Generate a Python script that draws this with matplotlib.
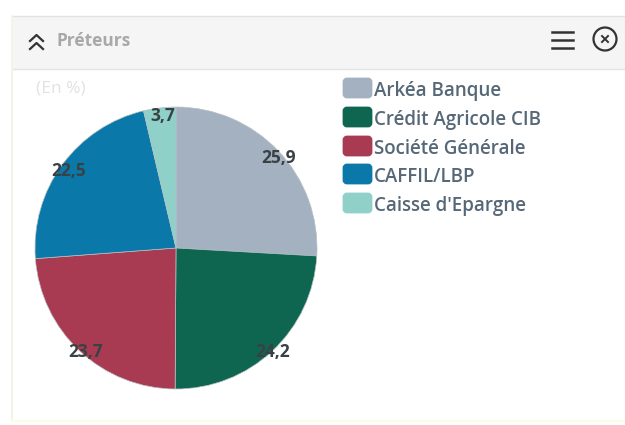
import matplotlib
matplotlib.use("Agg")
from matplotlib import pyplot as plt
from matplotlib.patches import Rectangle, Circle, FancyBboxPatch

plt.rcParams["font.family"] = ["Open Sans", "DejaVu Sans"]

lenders = ["Arkéa Banque", "Crédit Agricole CIB", "Société Générale", "CAFFIL/LBP", "Caisse d'Epargne"]
shares = [25.9, 24.2, 23.7, 22.5, 3.7]
share_labels = ["25,9", "24,2", "23,7", "22,5", "3,7"]
colors = ["#a3b1c0", "#0f6650", "#a83a52", "#0a78a8", "#8fd0c8"]

W, H = 625, 425
fig = plt.figure(figsize=(W / 100, H / 100), dpi=100)

# pixel canvas for the panel, header and icons
bg = fig.add_axes([0, 0, 1, 1])
bg.set_xlim(0, W)
bg.set_ylim(H, 0)
bg.axis("off")

bg.add_patch(Rectangle((13, 16), 612, 53, fc="#f5f5f5", ec="none"))
bg.plot([13, 625], [16, 16], color="#e2e2e2", lw=1)
bg.plot([13, 625], [69, 69], color="#e4e4e4", lw=1)
bg.plot([12, 12], [16, 420], color="#f1f1ea", lw=1.2)
bg.plot([12, 625], [421, 421], color="#fbfbe8", lw=1.5)

# double chevron
bg.plot([30, 36.5, 43], [41, 35, 41], color="#333333", lw=1.6)
bg.plot([30, 36.5, 43], [49, 43, 49], color="#333333", lw=1.6)
bg.text(56, 41, "Préteurs", color="#a8a8a8", fontsize=12.5, fontweight="bold", va="center")
bg.text(36, 88, "(En %)", color="#e2e2e2", fontsize=12.5, va="center")

# menu and close icons
for y in [32, 40, 48]:
    bg.plot([552, 573], [y, y], color="#333333", lw=1.8)
bg.add_patch(Circle((605, 39), 11.5, fc="none", ec="#333333", lw=1.6))
bg.plot([602, 608], [36, 42], color="#333333", lw=1.4)
bg.plot([602, 608], [42, 36], color="#333333", lw=1.4)

# pie
cx, cy, r = 176, 248, 141
pie_ax = fig.add_axes([(cx - r) / W, 1 - (cy + r) / H, 2 * r / W, 2 * r / H])
wedges, texts = pie_ax.pie(shares, colors=colors, startangle=90, counterclock=False,
                           radius=1, labels=share_labels, labeldistance=0.97,
                           wedgeprops={"edgecolor": "#b8c0c4", "linewidth": 0.5})
for t in texts:
    x, y = t.get_position()
    t.set_position((x + 0.02, y - 0.03))
    t.set_ha("center")
    t.set_va("center")
    t.set_fontsize(12.5)
    t.set_fontweight("bold")
    t.set_color("#3a4144")
pie_ax.set_xlim(-1, 1)
pie_ax.set_ylim(-1, 1)

# legend
ys = [88, 117, 146, 174, 203]
for name, col, y in zip(lenders, colors, ys):
    bg.add_patch(FancyBboxPatch((344, y - 9), 27, 18, boxstyle="round,pad=0,rounding_size=3",
                                fc=col, ec=col, lw=2))
    bg.text(374, y + 3, name, color="#566877", fontsize=13.5, fontweight="semibold", va="center")

fig.savefig("out.png", dpi=100)
